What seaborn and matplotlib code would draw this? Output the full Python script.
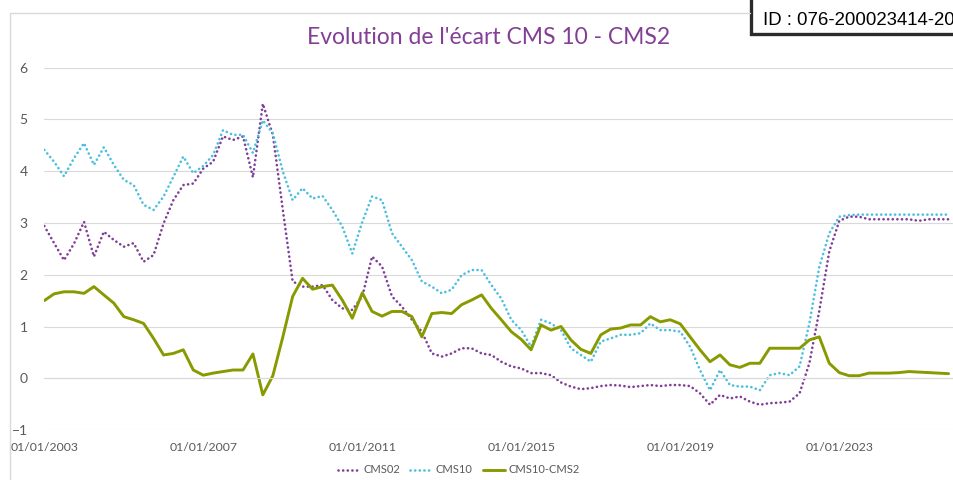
import pandas as pd
import matplotlib.pyplot as plt
import matplotlib.dates as mdates
from matplotlib.lines import Line2D
from matplotlib.patches import Rectangle
import seaborn as sns

# quarterly readings, Jan 2003 -> Oct 2025
dates = pd.date_range("2003-01-01", periods=92, freq="QS")

cms02 = [2.94, 2.61, 2.28, 2.60, 3.02, 2.35, 2.83, 2.67, 2.54, 2.61,
         2.25, 2.38, 2.99, 3.44, 3.73, 3.76, 4.05, 4.18, 4.67, 4.60,
         4.67, 3.88, 5.30, 4.70, 3.25, 1.87, 1.77, 1.77, 1.80, 1.51,
         1.35, 1.32, 1.58, 2.35, 2.16, 1.58, 1.38, 1.13, 0.90, 0.48,
         0.42, 0.48, 0.58, 0.58, 0.48, 0.45, 0.32, 0.23, 0.19, 0.10,
         0.10, 0.06, -0.08, -0.16, -0.21, -0.19, -0.15, -0.13, -0.14, -0.17,
         -0.15, -0.13, -0.15, -0.13, -0.13, -0.15, -0.29, -0.51, -0.32, -0.39,
         -0.35, -0.45, -0.51, -0.48, -0.47, -0.45, -0.29, 0.29, 1.30, 2.45,
         3.04, 3.12, 3.12, 3.07, 3.07, 3.07, 3.07, 3.07, 3.04, 3.07,
         3.07, 3.07]

cms10 = [4.41, 4.18, 3.90, 4.25, 4.54, 4.12, 4.46, 4.12, 3.83, 3.73,
         3.35, 3.25, 3.51, 3.89, 4.28, 3.96, 4.10, 4.31, 4.79, 4.70,
         4.70, 4.35, 4.98, 4.73, 3.99, 3.44, 3.67, 3.47, 3.52, 3.25,
         2.93, 2.41, 3.02, 3.51, 3.44, 2.80, 2.54, 2.28, 1.87, 1.77,
         1.64, 1.71, 1.99, 2.09, 2.09, 1.80, 1.54, 1.13, 0.93, 0.61,
         1.13, 1.06, 0.93, 0.58, 0.45, 0.32, 0.71, 0.77, 0.84, 0.84,
         0.87, 1.06, 0.93, 0.93, 0.90, 0.61, 0.16, -0.23, 0.16, -0.13,
         -0.16, -0.16, -0.23, 0.06, 0.10, 0.06, 0.23, 1.06, 2.15, 2.80,
         3.12, 3.15, 3.16, 3.16, 3.16, 3.16, 3.16, 3.16, 3.16, 3.16,
         3.16, 3.16]

spread = [1.50, 1.63, 1.67, 1.67, 1.64, 1.77, 1.61, 1.45, 1.19, 1.13,
          1.06, 0.77, 0.45, 0.48, 0.55, 0.16, 0.06, 0.10, 0.13, 0.16,
          0.16, 0.47, -0.32, 0.05, 0.80, 1.58, 1.93, 1.72, 1.77, 1.80,
          1.51, 1.16, 1.65, 1.29, 1.20, 1.29, 1.29, 1.19, 0.80, 1.25,
          1.27, 1.25, 1.42, 1.51, 1.61, 1.35, 1.13, 0.90, 0.75, 0.55,
          1.03, 0.93, 1.00, 0.74, 0.56, 0.48, 0.84, 0.95, 0.97, 1.03,
          1.03, 1.19, 1.09, 1.13, 1.05, 0.80, 0.55, 0.32, 0.45, 0.26,
          0.21, 0.29, 0.29, 0.58, 0.58, 0.58, 0.58, 0.74, 0.80, 0.29,
          0.11, 0.05, 0.05, 0.10, 0.10, 0.10, 0.11, 0.13, 0.12, 0.11,
          0.10, 0.09]

years = [2003, 2007, 2011, 2015, 2019, 2023]

PURPLE = "#7f3f98"
CYAN = "#4bbfdf"
OLIVE = "#889a00"
GRID = "#d9d9d9"
TXT = "#595959"
DOTS = (0, (0.05, 1.7))

sns.set_style("white")
plt.rcParams["font.family"] = ["Lato", "DejaVu Sans"]

W, H = 954, 480
fig = plt.figure(figsize=(W / 100, H / 100), dpi=100)
ax = fig.add_axes([44.3 / W, (H - 430.1) / H, (W - 44.3) / W, (430.1 - 67.5) / H])

df = pd.DataFrame({"date": dates, "CMS02": cms02, "CMS10": cms10, "CMS10-CMS2": spread})

sns.lineplot(data=df, x="date", y="CMS02", ax=ax, color=PURPLE, lw=1.9,
             linestyle=DOTS, dash_capstyle="round", label="CMS02")
sns.lineplot(data=df, x="date", y="CMS10", ax=ax, color=CYAN, lw=1.9,
             linestyle=DOTS, dash_capstyle="round", label="CMS10")
sns.lineplot(data=df, x="date", y="CMS10-CMS2", ax=ax, color=OLIVE, lw=2.1,
             label="CMS10-CMS2")

ax.set_ylim(-1, 6)
ax.set_xlim(pd.Timestamp("2003-01-01"), pd.Timestamp("2025-11-20"))
ax.set_yticks(range(-1, 7))
ax.yaxis.grid(True, color=GRID, lw=0.8)
ax.set_xlabel("")
ax.set_ylabel("")

for s in ["top", "right", "left"]:
    ax.spines[s].set_visible(False)
ax.spines["bottom"].set_position(("data", 0))
ax.spines["bottom"].set_color(GRID)
ax.spines["bottom"].set_linewidth(0.8)

ax.set_xticks([pd.Timestamp(f"{y}-01-01") for y in years])
ax.xaxis.set_major_formatter(mdates.DateFormatter("%d/%m/%Y"))
ax.tick_params(axis="x", direction="out", length=4, width=0.8, color=GRID,
               pad=42, labelsize=8.8, labelcolor=TXT)
ax.tick_params(axis="y", length=0, pad=12, labelsize=10, labelcolor=TXT)

ax.get_legend().remove()
fig.legend(loc="center", bbox_to_anchor=(0.481, 0.021), ncol=3, frameon=False,
           fontsize=8, labelcolor=TXT, handlelength=2.0, columnspacing=0.9,
           handletextpad=0.3)

fig.text(0.512, 1 - 37 / H, "Evolution de l'écart CMS 10 - CMS2", color="#833f96",
         fontsize=16.5, ha="center", va="center")

# chart area border
fig.add_artist(Line2D([10 / W, 10 / W], [0, 1 - 13 / H], color=GRID, lw=1))
fig.add_artist(Line2D([10 / W, 750 / W], [1 - 13 / H, 1 - 13 / H], color=GRID, lw=1))

# stamp box top right
fig.add_artist(Rectangle((751 / W, 1 - 33.5 / H), 220 / W, 40 / H, facecolor="white",
                         edgecolor="#2b2b2b", lw=2.4, clip_on=False))
fig.text(763 / W, 1 - 25 / H, "ID : 076-200023414-20", family="Liberation Sans",
         fontsize=13.4, color="black", va="baseline", ha="left")

fig.savefig("out.png", dpi=100)
